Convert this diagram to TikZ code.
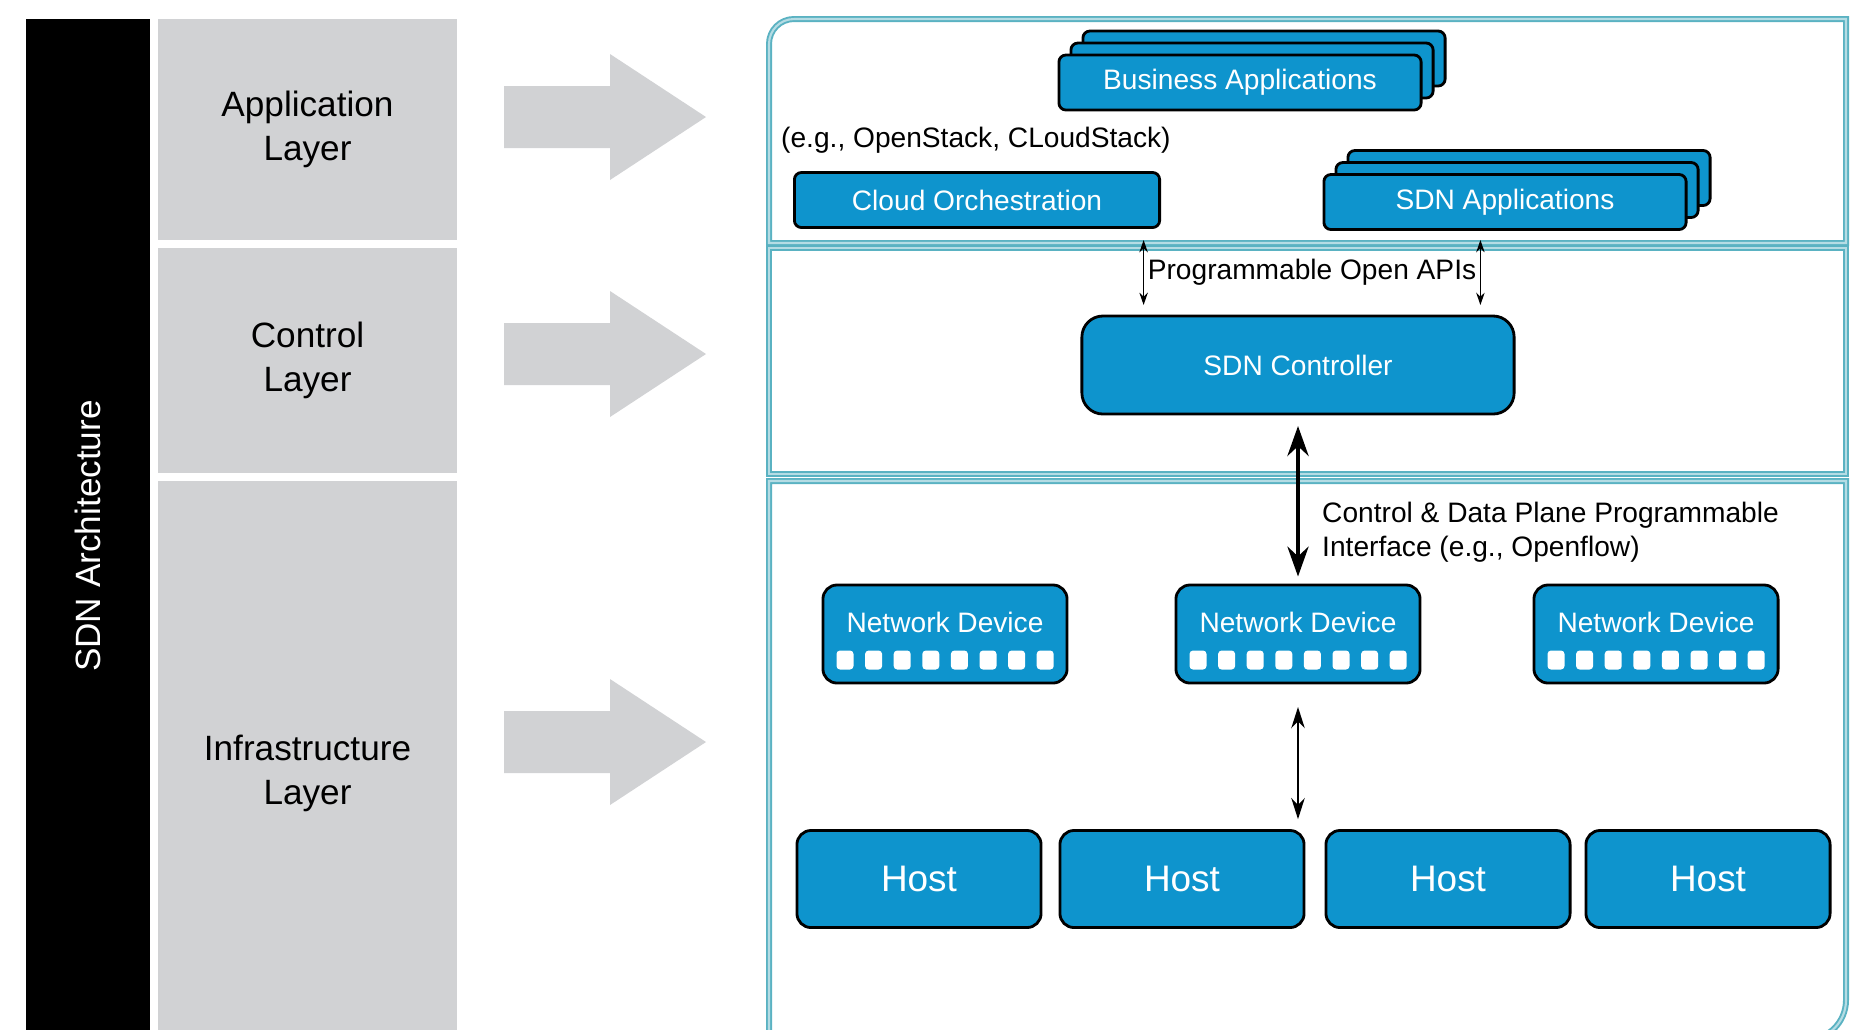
\documentclass[tikz,border=0pt]{standalone}
\usepackage{fontspec}
\setmainfont{Liberation Sans}
\usetikzlibrary{positioning, arrows.meta, calc}
\definecolor{sdnblue}{HTML}{0E94CD}
\definecolor{layergray}{HTML}{D1D2D4}
\definecolor{panelteal}{HTML}{5AB2C2}
\tikzset{
    layerbox/.style={fill=layergray, minimum width=2.99cm, align=center, font=\fontsize{10}{12.5}\selectfont, inner sep=0pt},
    archbar/.style={fill=black, text=white, rotate=90, minimum width=10.34cm, minimum height=1.24cm, font=\fontsize{10}{12}\selectfont, inner sep=0pt},
    panel/.style={draw=panelteal, line width=0.55pt, double=panelteal!45, double distance=0.6pt},
    appbox/.style={draw=black, line width=0.8pt, fill=sdnblue, rounded corners=2pt, minimum width=3.62cm, minimum height=0.55cm, text=white, font=\fontsize{8}{9.6}\selectfont, inner sep=0pt},
    devbox/.style={draw=black, line width=0.8pt, fill=sdnblue, rounded corners=4pt, minimum width=2.44cm, minimum height=0.98cm, inner sep=0pt},
    hostbox/.style={devbox, minimum height=0.97cm, text=white, font=\fontsize{10.5}{12}\selectfont},
    ctrlbox/.style={devbox, rounded corners=6pt, minimum width=4.32cm, text=white, font=\fontsize{8}{9.6}\selectfont},
    devtext/.style={text=white, font=\fontsize{8}{9.6}\selectfont, inner sep=0pt},
    port/.style={fill=white, rounded corners=1pt, minimum width=0.17cm, minimum height=0.19cm, inner sep=0pt},
    note/.style={font=\fontsize{8}{9.6}\selectfont, inner sep=1pt},
    apiarrow/.style={{Stealth[length=3.5pt, width=2.4pt]}-{Stealth[length=3.5pt, width=2.4pt]}, line width=0.4pt},
    bigarrow/.style={{Stealth[length=8.5pt, width=6pt]}-{Stealth[length=8.5pt, width=6pt]}, line width=1.2pt},
    midarrow/.style={{Stealth[length=6pt, width=3.8pt]}-{Stealth[length=6pt, width=3.8pt]}, line width=0.8pt},
    grayarrow/.pic={\fill[layergray] (0,-31) -- (106,-31) -- (106,-63) -- (202,0) -- (106,63) -- (106,31) -- (0,31) -- cycle;}
}

\begin{document}
\begin{tikzpicture}[x=0.01cm, y=-0.01cm]
    \useasboundingbox (0,0) rectangle (1876,1029);

    % Left column: architecture bar and layer names
    \node[archbar] (arch) at (88,536) {SDN Architecture};
    \node[layerbox, minimum height=2.21cm] (applayer) at (307.5,129.5) {Application\\Layer};
    \node[layerbox, minimum height=2.25cm] (ctrllayer) at (307.5,360.5) {Control\\Layer};
    \node[layerbox, minimum height=5.84cm] (infralayer) at (307.5,773) {Infrastructure\\Layer};

    \pic at (504,117) {grayarrow};
    \pic at (504,354) {grayarrow};
    \pic at (504,742) {grayarrow};

    % Layer panels
    \draw[panel] (769,243) -- (769,44) to[out=90, in=180] (794,19) -- (1846,19) -- (1846,243) -- cycle;
    \draw[panel] (769,248) rectangle (1846,474);
    \draw[panel] (769,1040) -- (769,481) -- (1846,481) -- (1846,1000) to[out=-90, in=0] (1806,1040) -- cycle;

    % Application layer
    \foreach \s in {2,1}
        \node[appbox] (biz\s) at (1240+12*\s,82.5-12*\s) {};
    \node[appbox] (biz) at (1240,82.5) {Business Applications};
    \foreach \s in {2,1}
        \node[appbox] (sdnapp\s) at (1505+12*\s,202-12*\s) {};
    \node[appbox] (sdnapp) at (1505,202) {SDN Applications};
    \node[appbox, minimum width=3.65cm] (cloud) at (977,200) {Cloud Orchestration};
    \node[note, anchor=west] (eg) at (777,140) {(e.g., OpenStack, CLoudStack)};

    % Control layer
    \node[note] (apis) at (1312,272) {Programmable Open APIs};
    \coordinate (apitop) at (0,240);
    \coordinate (apibot) at (0,305);
    \draw[apiarrow] (apis.west |- apitop) -- (apis.west |- apibot);
    \draw[apiarrow] (apis.east |- apitop) -- (apis.east |- apibot);
    \node[ctrlbox] (ctrl) at (1298,365) {SDN Controller};

    % Infrastructure layer
    \foreach \i/\x in {1/945, 2/1298, 3/1656} {
        \node[devbox] (nd\i) at (\x,634) {};
        \node[devtext] (ndt\i) at ([shift={(0,-12)}]nd\i.center) {Network Device};
        \foreach \k in {0,...,7}
            \node[port] (nd\i p\k) at ([shift={(-100+28.6*\k,26)}]nd\i.center) {};
    }
    \foreach \i/\x in {1/919, 2/1182, 3/1448, 4/1708}
        \node[hostbox] (host\i) at (\x,879) {Host};

    \draw[bigarrow] ([yshift=-3pt]ctrl.south) -- ([yshift=2pt]ctrl.south |- nd2.north);
    \node[note, anchor=west, align=left] (cdlabel) at (1318,532) {Control \& Data Plane Programmable\\Interface (e.g., Openflow)};
    \draw[midarrow] ([yshift=-6.4pt]nd2.south) -- ([yshift=2.8pt]nd2.south |- host2.north);
\end{tikzpicture}
\end{document}
